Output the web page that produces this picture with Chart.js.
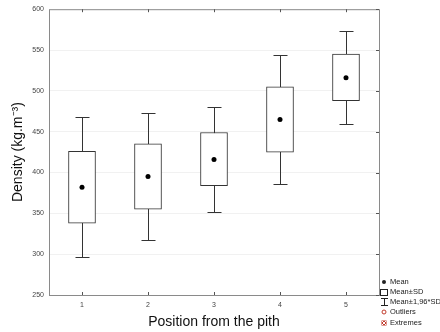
<!DOCTYPE html>
<html>
<head>
<meta charset="utf-8">
<script src="https://cdn.jsdelivr.net/npm/chart.js@4.4.1/dist/chart.umd.min.js"></script>
<style>
  html, body { margin: 0; padding: 0; background: #fff; }
  #wrap { width: 440px; height: 332px; position: relative; }
</style>
</head>
<body>
<div id="wrap"><canvas id="density"></canvas></div>
<script>
// values
const positions = ['1', '2', '3', '4', '5'];
const means = [382, 395, 416, 465, 516];
const boxLow = [338, 355, 384, 425, 488];      // mean - SD
const boxHigh = [426, 435, 449, 505, 545];     // mean + SD
const whiskerLow = [296, 317, 352, 386, 460];  // mean - 1.96*SD
const whiskerHigh = [468, 473, 480, 544, 573]; // mean + 1.96*SD
const yTicks = [250, 300, 350, 400, 450, 500, 550, 600];

const FONT = 'Liberation Sans, Arial, sans-serif';
const FRAME = '#8a8a8a';
const INK = '#333';

// whiskers behind the boxes
const whiskers = {
    id: 'whiskers',
    beforeDatasetsDraw(chart) {
        const {ctx, scales: {x, y}} = chart;
        ctx.save();
        ctx.strokeStyle = INK;
        ctx.lineWidth = 1;
        positions.forEach((p, i) => {
            const px = Math.round(x.getPixelForValue(i)) + 0.5;
            const top = Math.round(y.getPixelForValue(whiskerHigh[i])) + 0.5;
            const bot = Math.round(y.getPixelForValue(whiskerLow[i])) + 0.5;
            ctx.beginPath();
            ctx.moveTo(px, top);
            ctx.lineTo(px, bot);
            ctx.moveTo(px - 7, top);
            ctx.lineTo(px + 7, top);
            ctx.moveTo(px - 7, bot);
            ctx.lineTo(px + 7, bot);
            ctx.stroke();
        });
        ctx.restore();
    }
};

// frame with inward ticks + the legend at the lower right
const frame = {
    id: 'frame',
    afterDraw(chart) {
        const {ctx, chartArea: {left, right, top, bottom}, scales: {x, y}} = chart;
        ctx.save();
        ctx.strokeStyle = FRAME;
        ctx.lineWidth = 1;
        ctx.strokeRect(left + 0.5, top + 0.5, right - left, bottom - top);

        ctx.strokeStyle = '#555';
        ctx.beginPath();
        positions.forEach((p, i) => {
            const px = Math.round(x.getPixelForValue(i)) + 0.5;
            ctx.moveTo(px, top);
            ctx.lineTo(px, top + 3);
            ctx.moveTo(px, bottom);
            ctx.lineTo(px, bottom - 3);
        });
        yTicks.forEach(v => {
            const py = Math.round(y.getPixelForValue(v)) + 0.5;
            ctx.moveTo(right, py);
            ctx.lineTo(right - 3, py);
        });
        ctx.stroke();

        // legend
        const lx = 384;
        ctx.font = '7.5px ' + FONT;
        ctx.textBaseline = 'middle';
        ctx.textAlign = 'left';
        ctx.fillStyle = '#222';

        ctx.beginPath();
        ctx.arc(lx, 282, 2, 0, Math.PI * 2);
        ctx.fill();
        ctx.fillText('Mean', 390, 282);

        ctx.strokeStyle = '#222';
        ctx.strokeRect(380.5, 289.5, 7, 6);
        ctx.fillText('Mean±SD', 390, 292);

        ctx.beginPath();
        ctx.moveTo(381, 298.5); ctx.lineTo(388, 298.5);
        ctx.moveTo(384.5, 298.5); ctx.lineTo(384.5, 305.5);
        ctx.moveTo(381, 305.5); ctx.lineTo(388, 305.5);
        ctx.stroke();
        ctx.fillText('Mean±1,96*SD', 390, 302);

        ctx.strokeStyle = '#c0392b';
        ctx.beginPath();
        ctx.arc(lx, 312, 2, 0, Math.PI * 2);
        ctx.stroke();
        ctx.fillText('Outliers', 390, 312);

        ctx.fillStyle = '#c0392b';
        ctx.fillRect(381.5, 320.5, 5, 5);
        ctx.strokeStyle = '#fff';
        ctx.beginPath();
        ctx.moveTo(382, 321); ctx.lineTo(386, 325);
        ctx.moveTo(386, 321); ctx.lineTo(382, 325);
        ctx.stroke();
        ctx.fillStyle = '#222';
        ctx.fillText('Extremes', 390, 323);

        ctx.restore();
    }
};

new Chart(document.getElementById('density'), {
    type: 'bar',
    data: {
        labels: positions,
        datasets: [
            {
                type: 'line',
                data: means,
                showLine: false,
                pointRadius: 2.5,
                pointBackgroundColor: '#000',
                pointBorderWidth: 0,
                order: 0
            },
            {
                data: positions.map((p, i) => [boxLow[i], boxHigh[i]]),
                backgroundColor: '#fff',
                borderColor: INK,
                borderWidth: 1,
                borderSkipped: false,
                barThickness: 27,
                order: 1
            }
        ]
    },
    options: {
        responsive: true,
        maintainAspectRatio: false,
        animation: false,
        layout: { padding: { top: 9, right: 61, left: 0, bottom: 0 } },
        plugins: {
            legend: { display: false },
            tooltip: { enabled: false }
        },
        scales: {
            x: {
                offset: true,
                grid: { display: false, drawTicks: false },
                border: { display: false },
                ticks: { font: { family: FONT, size: 7 }, color: '#444', padding: 6 },
                title: {
                    display: true,
                    text: 'Position from the pith',
                    font: { family: FONT, size: 14 },
                    color: '#111',
                    padding: { top: 0, bottom: 1 }
                },
                afterFit(scale) { scale.height = 37; }
            },
            y: {
                min: 250,
                max: 600,
                afterBuildTicks(scale) { scale.ticks = yTicks.map(v => ({ value: v })); },
                grid: { color: '#f1f1f1', drawTicks: false },
                border: { display: false },
                ticks: { font: { family: FONT, size: 7 }, color: '#444', padding: 5 },
                title: {
                    display: true,
                    text: 'Density (kg.m⁻³)',
                    font: { family: FONT, size: 14 },
                    color: '#111',
                    padding: { top: 10, bottom: 0 }
                },
                afterFit(scale) { scale.width = 49; }
            }
        }
    },
    plugins: [whiskers, frame]
});
</script>
</body>
</html>
